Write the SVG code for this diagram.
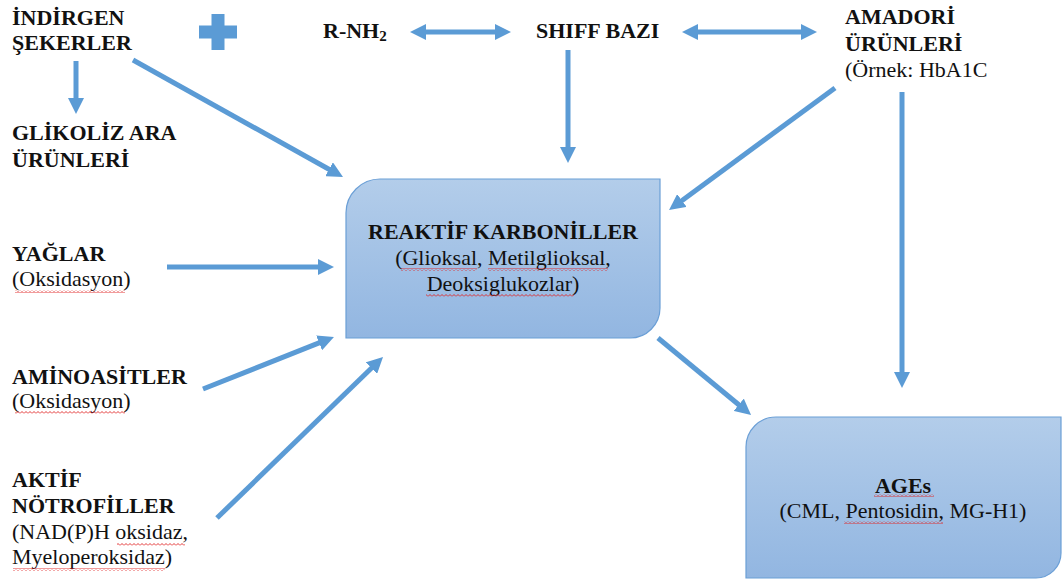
<svg xmlns="http://www.w3.org/2000/svg" width="1063" height="581" viewBox="0 0 1063 581">
<style>
text{font-family:"Liberation Serif","Times New Roman",serif;font-size:22px;fill:#111}
.b{font-weight:bold}
.c{text-anchor:middle}
.arr{stroke:#5b9bd5;stroke-width:5;fill:none;marker-end:url(#ah)}
.dbl{marker-start:url(#ah)}
.box{fill:url(#g);stroke:#6b9fd6;stroke-width:1.2}
.sq{fill:url(#sq)}
</style>
<defs>
<linearGradient id="g" x1="0" y1="0" x2="0" y2="1">
<stop offset="0" stop-color="#b3cdea"/>
<stop offset="1" stop-color="#92b6e1"/>
</linearGradient>
<marker id="ah" viewBox="0 0 16 16" markerWidth="16" markerHeight="16" refX="4" refY="8" markerUnits="userSpaceOnUse" orient="auto-start-reverse">
<path d="M0,0 L16,8 L0,16 Z" fill="#5b9bd5"/>
</marker>
<pattern id="sq" width="4" height="3" patternUnits="userSpaceOnUse">
<path d="M0,2.5 L2,0.5 L4,2.5" fill="none" stroke="#e02020" stroke-width="0.9"/>
</pattern>
</defs>
<rect width="1063" height="581" fill="#fff"/>

<g id="connectors">
<line class="arr" x1="76" y1="61" x2="76" y2="102"/>
<line class="arr" x1="133" y1="60" x2="332.5" y2="171.2"/>
<line class="arr dbl" x1="422" y1="32" x2="499" y2="32"/>
<line class="arr dbl" x1="694" y1="32" x2="805" y2="32"/>
<line class="arr" x1="568" y1="50" x2="568" y2="151"/>
<line class="arr" x1="167" y1="267" x2="322" y2="267"/>
<line class="arr" x1="203" y1="389" x2="322.8" y2="341.4"/>
<line class="arr" x1="217" y1="518" x2="374.4" y2="365.3"/>
<line class="arr" x1="835" y1="88" x2="678.7" y2="202.9"/>
<line class="arr" x1="902" y1="92" x2="902" y2="376"/>
<line class="arr" x1="658" y1="338" x2="741.8" y2="407.3"/>
</g>

<g id="plus">
<path d="M211.5,14 H224.5 V25.5 H237 V38.5 H224.5 V50 H211.5 V38.5 H199 V25.5 H211.5 Z" fill="#5b9bd5"/>
</g>

<g id="indirgen">
<text class="b" x="12" y="25">İNDİRGEN</text>
<text class="b" x="12" y="50">ŞEKERLER</text>
</g>

<g id="glikoliz">
<text class="b" x="12" y="140">GLİKOLİZ ARA</text>
<text class="b" x="12" y="167">ÜRÜNLERİ</text>
</g>

<g id="rnh2">
<text class="b" x="323" y="38">R-NH<tspan font-size="15" dy="3">2</tspan></text>
</g>

<g id="shiff">
<text class="b" x="536" y="38">SHIFF BAZI</text>
</g>

<g id="amadori">
<text class="b" x="845" y="24">AMADORİ</text>
<text class="b" x="845" y="51">ÜRÜNLERİ</text>
<text x="845" y="77">(Örnek: HbA1C</text>
</g>

<g id="yaglar">
<text class="b" x="12" y="261">YAĞLAR</text>
<text x="12" y="286">(Oksidasyon)</text>
<rect class="sq" x="15" y="290" width="110" height="3"/>
</g>

<g id="aminoasitler">
<text class="b" x="12" y="384">AMİNOASİTLER</text>
<text x="12" y="408">(Oksidasyon)</text>
<rect class="sq" x="15" y="411" width="110" height="3"/>
</g>

<g id="notrofiller">
<text class="b" x="12" y="487">AKTİF</text>
<text class="b" x="12" y="513">NÖTROFİLLER</text>
<text x="12" y="539">(NAD(P)H oksidaz,</text>
<text x="12" y="564">Myeloperoksidaz)</text>
<rect class="sq" x="117" y="543" width="68" height="3"/>
<rect class="sq" x="13" y="568" width="152" height="3"/>
</g>

<g id="reaktif">
<path class="box" d="M346,213 A34,34 0 0 1 380,179 H660 V308 A30,30 0 0 1 630,338 H346 Z"/>
<text class="b c" x="503" y="239">REAKTİF KARBONİLLER</text>
<text class="c" x="503" y="265">(Glioksal, Metilglioksal,</text>
<text class="c" x="503" y="291">Deoksiglukozlar)</text>
<rect class="sq" x="401" y="268" width="76" height="3"/>
<rect class="sq" x="488" y="268" width="120" height="3"/>
<rect class="sq" x="426" y="294" width="148" height="3"/>
</g>

<g id="ages">
<path class="box" d="M746,447 A30,30 0 0 1 776,417 H1061 V553 A25,25 0 0 1 1036,578 H746 Z"/>
<text class="b c" x="903" y="493">AGEs</text>
<text class="c" x="903" y="518">(CML, Pentosidin, MG-H1)</text>
<rect class="sq" x="874" y="494" width="60" height="3"/>
<rect class="sq" x="844" y="521" width="99" height="3"/>
</g>
</svg>
